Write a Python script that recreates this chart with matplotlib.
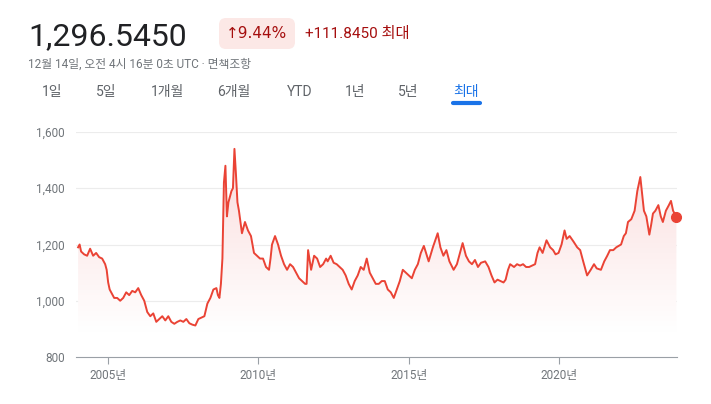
import matplotlib
matplotlib.use("Agg")
import matplotlib.pyplot as plt
import numpy as np
from matplotlib.patches import FancyBboxPatch, Polygon
from matplotlib.colors import LinearSegmentedColormap

plt.rcParams['font.family'] = ['Roboto', 'Noto Sans CJK KR', 'DejaVu Sans']

# (year, KRW per USD)
points = [
 (2004.0,1190),(2004.05,1200),(2004.1,1175),(2004.2,1165),(2004.3,1160),(2004.4,1185),(2004.5,1160),(2004.6,1170),(2004.7,1155),(2004.8,1150),(2004.9,1130),(2004.95,1110),
 (2005.0,1065),(2005.05,1040),(2005.1,1030),(2005.2,1010),(2005.3,1010),(2005.4,1000),(2005.5,1010),(2005.6,1030),(2005.7,1020),(2005.8,1035),(2005.9,1030),
 (2006.0,1045),(2006.1,1020),(2006.2,1000),(2006.3,960),(2006.4,945),(2006.5,955),(2006.6,925),(2006.7,935),(2006.8,945),(2006.9,930),
 (2007.0,945),(2007.1,925),(2007.2,918),(2007.3,925),(2007.4,930),(2007.5,925),(2007.6,935),(2007.7,920),(2007.8,915),(2007.9,912),
 (2008.0,935),(2008.1,940),(2008.2,945),(2008.3,990),(2008.4,1010),(2008.5,1040),(2008.6,1045),(2008.65,1020),(2008.7,1010),(2008.75,1060),(2008.8,1150),(2008.85,1420),(2008.9,1480),(2008.95,1300),
 (2009.0,1350),(2009.05,1370),(2009.1,1390),(2009.15,1400),(2009.2,1540),(2009.25,1450),(2009.3,1350),(2009.35,1320),(2009.45,1240),(2009.55,1280),(2009.65,1250),(2009.75,1230),(2009.85,1170),(2009.95,1160),
 (2010.05,1150),(2010.15,1150),(2010.25,1120),(2010.35,1110),(2010.4,1150),(2010.45,1200),(2010.55,1230),(2010.65,1200),(2010.75,1160),(2010.85,1130),(2010.95,1110),
 (2011.05,1130),(2011.15,1120),(2011.25,1100),(2011.35,1080),(2011.45,1070),(2011.55,1060),(2011.6,1060),(2011.65,1180),(2011.75,1110),(2011.85,1160),(2011.95,1150),
 (2012.05,1120),(2012.15,1130),(2012.25,1150),(2012.3,1140),(2012.4,1160),(2012.5,1135),(2012.6,1130),(2012.7,1120),(2012.8,1110),(2012.9,1090),
 (2013.0,1060),(2013.1,1040),(2013.2,1070),(2013.3,1090),(2013.4,1120),(2013.5,1110),(2013.6,1150),(2013.7,1100),(2013.8,1080),(2013.9,1060),
 (2014.0,1060),(2014.1,1070),(2014.2,1070),(2014.3,1040),(2014.4,1030),(2014.5,1010),(2014.6,1040),(2014.7,1070),(2014.8,1110),(2014.9,1100),
 (2015.0,1090),(2015.1,1080),(2015.2,1110),(2015.3,1130),(2015.4,1170),(2015.5,1195),(2015.6,1160),(2015.66,1140),(2015.8,1190),(2015.96,1240),
 (2016.05,1190),(2016.15,1160),(2016.25,1180),(2016.35,1140),(2016.49,1110),(2016.6,1130),(2016.7,1170),(2016.79,1205),(2016.9,1160),(2017.0,1140),
 (2017.1,1130),(2017.2,1145),(2017.3,1120),(2017.4,1135),(2017.54,1140),(2017.65,1120),(2017.75,1090),(2017.85,1065),(2017.95,1075),(2018.05,1070),
 (2018.15,1065),(2018.22,1075),(2018.3,1110),(2018.37,1130),(2018.5,1120),(2018.6,1130),(2018.7,1125),(2018.8,1130),(2018.9,1120),(2019.0,1120),
 (2019.1,1125),(2019.2,1130),(2019.28,1170),(2019.35,1190),(2019.45,1170),(2019.58,1215),(2019.7,1190),(2019.8,1180),(2019.88,1165),(2019.98,1170),
 (2020.08,1200),(2020.18,1250),(2020.25,1220),(2020.35,1230),(2020.48,1210),(2020.6,1190),(2020.7,1180),(2020.8,1140),(2020.93,1090),(2021.05,1110),
 (2021.16,1130),(2021.25,1115),(2021.39,1110),(2021.5,1140),(2021.6,1160),(2021.69,1180),(2021.8,1180),(2021.9,1190),(2022.06,1200),(2022.15,1230),
 (2022.22,1240),(2022.29,1280),(2022.4,1290),(2022.51,1320),(2022.6,1390),(2022.7,1440),(2022.76,1380),(2022.82,1320),(2022.9,1300),(2023.0,1235),
 (2023.06,1270),(2023.12,1310),(2023.2,1320),(2023.3,1340),(2023.38,1300),(2023.45,1280),(2023.55,1320),(2023.65,1340),(2023.72,1355),(2023.79,1320),
 (2023.84,1310),(2023.9,1296.5),
]
years = [p[0] for p in points]
values = [p[1] for p in points]
yticks = [800,1000,1200,1400,1600]
ytick_labels = ['800','1,000','1,200','1,400','1,600']
xticks = [2005,2010,2015,2020]
xtick_labels = ['2005년','2010년','2015년','2020년']
tabs = ['1일','5일','1개월','6개월','YTD','1년','5년','최대']

W,H = 711,404
fig = plt.figure(figsize=(W/100,H/100), dpi=100)
red = '#ea4335'

ax0 = fig.add_axes([0,0,1,1]); ax0.axis('off'); ax0.set_xlim(0,W); ax0.set_ylim(H,0)
ax0.text(28,37,'1,296.5450',fontsize=23,color='#202124',va='center')
ax0.add_patch(FancyBboxPatch((219,18),76,31,boxstyle='round,pad=0,rounding_size=7',fc='#fce8e6',ec='none'))
ax0.text(257,34,'↑9.44%',fontsize=11,color='#a50e0e',ha='center',va='center',family=['DejaVu Sans'])
ax0.text(305,34,'+111.8450 최대',fontsize=11,color='#a50e0e',va='center')
ax0.text(28,64,'12월 14일, 오전 4시 16분 0초 UTC · 면책조항',fontsize=8.5,color='#70757a',va='center')
tabx = [52,106,167,234,300,355,408,466]
for t,x in zip(tabs,tabx):
    c = '#1a73e8' if t=='최대' else '#5f6368'
    ax0.text(x,92,t,fontsize=10,color=c,ha='center',va='center')
ax0.plot([453,480],[103,103],color='#1a73e8',lw=3,solid_capstyle='round')

ax = fig.add_axes([76/W, 1-357/H, (677-76)/W, (357-132)/H])
x0,x1 = 2003.93,2023.92
ax.set_xlim(x0,x1); ax.set_ylim(800,1600)
for y in yticks[1:]:
    ax.axhline(y,color='#ececec',lw=0.8,zorder=0)
grad = np.linspace(0,1,256).reshape(-1,1)
cmap = LinearSegmentedColormap.from_list('g',[(1,1,1,1),(0.98,0.85,0.85,1)])
im = ax.imshow(grad,extent=[x0,x1,890,1600],origin='lower',cmap=cmap,aspect='auto',zorder=1)
poly = Polygon(list(zip(years,values))+[(years[-1],890),(years[0],890)],closed=True,transform=ax.transData)
im.set_clip_path(poly)
ax.plot(years,values,color=red,lw=1.4,zorder=3)
ax.plot(years[-1],values[-1],'o',color=red,ms=7,zorder=4,clip_on=False)
ax.set_yticks(yticks); ax.set_yticklabels(ytick_labels)
ax.set_xticks(xticks); ax.set_xticklabels(xtick_labels)
for s in ['top','right','left']: ax.spines[s].set_visible(False)
ax.spines['bottom'].set_color('#9aa0a6')
ax.tick_params(axis='y',length=0,labelsize=8.5,colors='#70757a',pad=8)
ax.tick_params(axis='x',length=5,color='#9aa0a6',labelsize=8.5,labelcolor='#70757a',pad=4)
fig.savefig('out.png',dpi=100)
